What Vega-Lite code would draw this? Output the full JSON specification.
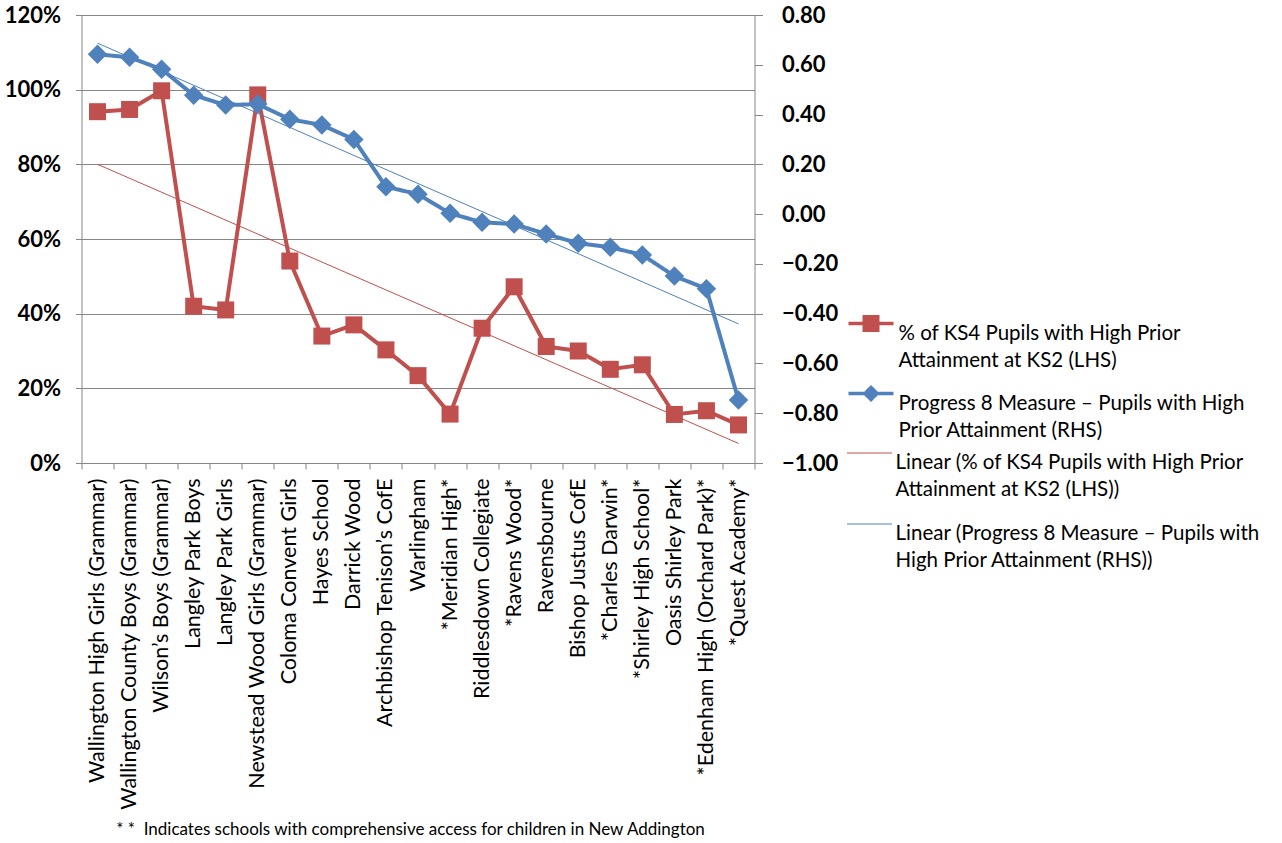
{
  "$schema": "https://vega.github.io/schema/vega-lite/v6.json",
  "autosize": "none",
  "width": 673,
  "height": 448,
  "padding": {"left": 81.5, "top": 15, "right": 527.5, "bottom": 380},
  "background": "white",
  "config": {
    "view": {"stroke": null},
    "font": "Lato",
    "axis": {"labelFont": "Lato", "titleFont": "Lato"},
    "style": {"guide-label": {"lineHeight": 27}},
    "legend": {
      "orient": "none",
      "title": null,
      "padding": 0,
      "symbolSize": 2025,
      "labelFont": "Lato",
      "labelFontSize": 20.5,
      "labelColor": "#000000",
      "labelLimit": 600,
      "labelOffset": 3
    }
  },
  "title": {
    "text": "* *\u00a0 Indicates schools with comprehensive access for children in New Addington",
    "orient": "bottom",
    "anchor": "start",
    "dx": 112,
    "offset": 12,
    "font": "Lato",
    "fontSize": 17,
    "fontWeight": "normal",
    "color": "#000000"
  },
  "data": {
    "values": [
      {"idx": 1, "school": "Wallington High Girls (Grammar)", "pct": 0.941, "p8": 0.642},
      {"idx": 2, "school": "Wallington County Boys (Grammar)", "pct": 0.947, "p8": 0.630},
      {"idx": 3, "school": "Wilson’s Boys (Grammar)", "pct": 0.997, "p8": 0.582},
      {"idx": 4, "school": "Langley Park Boys", "pct": 0.42, "p8": 0.478},
      {"idx": 5, "school": "Langley Park Girls", "pct": 0.41, "p8": 0.438},
      {"idx": 6, "school": "Newstead Wood Girls (Grammar)", "pct": 0.986, "p8": 0.442},
      {"idx": 7, "school": "Coloma Convent Girls", "pct": 0.541, "p8": 0.381},
      {"idx": 8, "school": "Hayes School", "pct": 0.340, "p8": 0.358},
      {"idx": 9, "school": "Darrick Wood", "pct": 0.370, "p8": 0.300},
      {"idx": 10, "school": "Archbishop Tenison’s CofE", "pct": 0.303, "p8": 0.110},
      {"idx": 11, "school": "Warlingham", "pct": 0.234, "p8": 0.080},
      {"idx": 12, "school": "*Meridian High*", "pct": 0.131, "p8": 0.003},
      {"idx": 13, "school": "Riddlesdown Collegiate", "pct": 0.361, "p8": -0.033},
      {"idx": 14, "school": "*Ravens Wood*", "pct": 0.472, "p8": -0.040},
      {"idx": 15, "school": "Ravensbourne", "pct": 0.312, "p8": -0.080},
      {"idx": 16, "school": "Bishop Justus CofE", "pct": 0.300, "p8": -0.117},
      {"idx": 17, "school": "*Charles Darwin*", "pct": 0.251, "p8": -0.133},
      {"idx": 18, "school": "*Shirley High School*", "pct": 0.263, "p8": -0.164},
      {"idx": 19, "school": "Oasis Shirley Park", "pct": 0.130, "p8": -0.249},
      {"idx": 20, "school": "*Edenham High (Orchard Park)*", "pct": 0.140, "p8": -0.300},
      {"idx": 21, "school": "*Quest Academy*", "pct": 0.102, "p8": -0.747}
    ]
  },
  "resolve": {"scale": {"y": "independent", "x": "independent"}},
  "layer": [
    {
      "mark": {"type": "line", "strokeWidth": 4, "color": "#C0504D"},
      "encoding": {
        "x": {
          "field": "school",
          "type": "nominal",
          "sort": null,
          "scale": {"type": "band", "paddingInner": 0, "paddingOuter": 0},
          "axis": {
            "title": null,
            "labelAngle": -90,
            "labelAlign": "right",
            "labelBaseline": "middle",
            "labelFontSize": 21.5,
            "labelColor": "#000000",
            "labelPadding": 9,
            "labelLimit": 500,
            "tickBand": "extent",
            "tickSize": 6,
            "tickColor": "#868686",
            "domainColor": "#868686",
            "grid": false
          }
        },
        "y": {
          "field": "pct",
          "type": "quantitative",
          "scale": {"domain": [0, 1.2], "nice": false, "zero": false},
          "axis": {
            "orient": "left",
            "title": null,
            "values": [0, 0.2, 0.4, 0.6, 0.8, 1.0, 1.2],
            "format": ".0%",
            "labelFontSize": 22,
            "labelFontWeight": "bold",
            "labelColor": "#000000",
            "labelPadding": 15,
            "tickSize": 6,
            "tickColor": "#868686",
            "domainColor": "#868686",
            "grid": true,
            "gridColor": "#868686",
            "gridOpacity": 1
          }
        },
        "stroke": {
          "datum": "% of KS4 Pupils with High Prior|Attainment at KS2 (LHS)",
          "type": "nominal",
          "scale": {"range": ["#C0504D"]},
          "legend": {
            "legendX": 765,
            "legendY": 284,
            "labelExpr": "split(datum.label, '|')",
            "labelBaseline": "top",
            "symbolType": "M-1,0H1M-0.3,-0.3H0.3V0.3H-0.3Z",
            "symbolStrokeWidth": 3.5,
            "symbolFillColor": "#C0504D"
          }
        }
      }
    },
    {
      "mark": {"type": "point", "shape": "square", "size": 289, "filled": true, "opacity": 1, "color": "#C0504D"},
      "encoding": {
        "x": {"field": "school", "type": "nominal", "sort": null, "scale": {"type": "band", "paddingInner": 0, "paddingOuter": 0}, "axis": null},
        "y": {"field": "pct", "type": "quantitative", "scale": {"domain": [0, 1.2], "nice": false, "zero": false}, "axis": null}
      }
    },
    {
      "mark": {"type": "line", "strokeWidth": 4, "color": "#4F81BD"},
      "encoding": {
        "x": {"field": "school", "type": "nominal", "sort": null, "scale": {"type": "band", "paddingInner": 0, "paddingOuter": 0}, "axis": null},
        "y": {
          "field": "p8",
          "type": "quantitative",
          "scale": {"domain": [-1, 0.8], "nice": false, "zero": false},
          "axis": {
            "orient": "right",
            "title": null,
            "values": [-1, -0.8, -0.6, -0.4, -0.2, 0, 0.2, 0.4, 0.6, 0.8],
            "format": ".2f",
            "labelFontSize": 22,
            "labelFontWeight": "bold",
            "labelColor": "#000000",
            "labelPadding": 19,
            "tickSize": 8,
            "tickColor": "#868686",
            "domainColor": "#868686",
            "grid": false
          }
        },
        "strokeDash": {
          "datum": "Progress 8 Measure – Pupils with High|Prior Attainment (RHS)",
          "type": "nominal",
          "scale": {"range": [[1, 0]]},
          "legend": {
            "legendX": 765,
            "legendY": 354,
            "labelExpr": "split(datum.label, '|')",
            "labelBaseline": "top",
            "symbolType": "M-1,0H1M0,-0.27L0.27,0L0,0.27L-0.27,0Z",
            "symbolStrokeWidth": 3.5,
            "symbolStrokeColor": "#4F81BD",
            "symbolFillColor": "#4F81BD"
          }
        }
      }
    },
    {
      "mark": {"type": "point", "shape": "diamond", "size": 380, "filled": true, "opacity": 1, "color": "#4F81BD"},
      "encoding": {
        "x": {"field": "school", "type": "nominal", "sort": null, "scale": {"type": "band", "paddingInner": 0, "paddingOuter": 0}, "axis": null},
        "y": {"field": "p8", "type": "quantitative", "scale": {"domain": [-1, 0.8], "nice": false, "zero": false}, "axis": null}
      }
    },
    {
      "transform": [{"regression": "pct", "on": "idx"}],
      "mark": {"type": "line", "strokeWidth": 1},
      "encoding": {
        "x": {"field": "idx", "type": "quantitative", "scale": {"domain": [0.5, 21.5], "nice": false, "zero": false}, "axis": null},
        "y": {"field": "pct", "type": "quantitative", "scale": {"domain": [0, 1.2], "nice": false, "zero": false}, "axis": null},
        "color": {
          "datum": "Linear (% of KS4 Pupils with High Prior|Attainment at KS2 (LHS))",
          "type": "nominal",
          "scale": {
            "domain": [
              "Linear (% of KS4 Pupils with High Prior|Attainment at KS2 (LHS))",
              "Linear (Progress 8 Measure – Pupils with|High Prior Attainment (RHS))"
            ],
            "range": ["#C0504D", "#4F81BD"]
          },
          "legend": {
            "legendX": 765,
            "legendY": 415,
            "labelExpr": "split(datum.label, '|')",
            "labelBaseline": "top",
            "symbolType": "M-1,0H1",
            "symbolStrokeWidth": 1,
            "rowPadding": -17
          }
        }
      }
    },
    {
      "transform": [{"regression": "p8", "on": "idx"}],
      "mark": {"type": "line", "strokeWidth": 1},
      "encoding": {
        "x": {"field": "idx", "type": "quantitative", "scale": {"domain": [0.5, 21.5], "nice": false, "zero": false}, "axis": null},
        "y": {"field": "p8", "type": "quantitative", "scale": {"domain": [-1, 0.8], "nice": false, "zero": false}, "axis": null},
        "color": {"datum": "Linear (Progress 8 Measure – Pupils with|High Prior Attainment (RHS))", "type": "nominal"}
      }
    }
  ]
}
